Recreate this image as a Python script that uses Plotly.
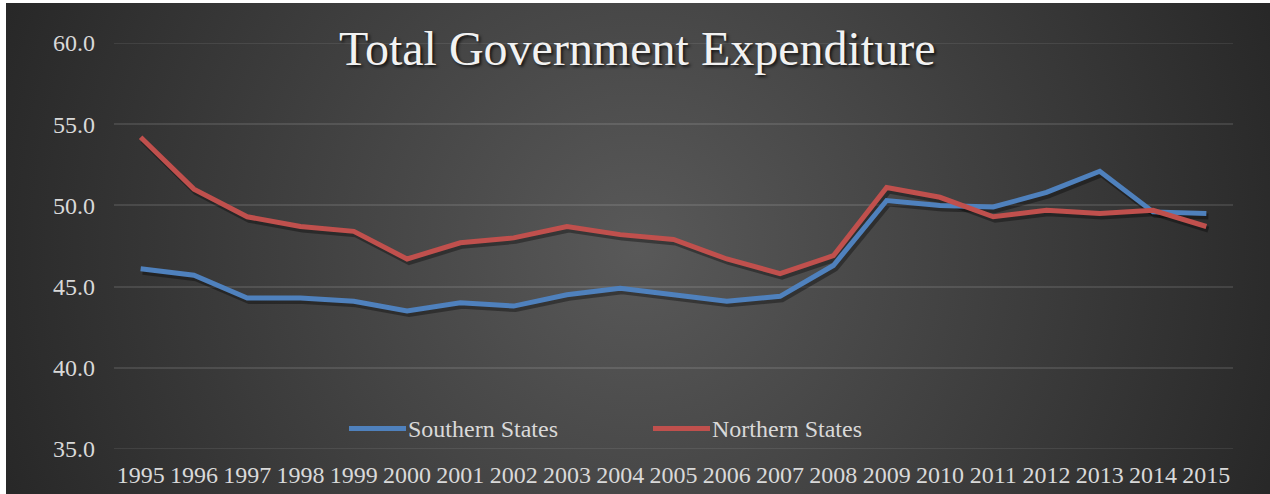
import base64
import plotly.graph_objects as go

# Series data
years = [str(y) for y in range(1995, 2016)]
southern = [46.1, 45.7, 44.3, 44.3, 44.1, 43.5, 44.0, 43.8, 44.5, 44.9, 44.5,
            44.1, 44.4, 46.3, 50.3, 50.0, 49.9, 50.8, 52.1, 49.6, 49.5]
northern = [54.2, 51.0, 49.3, 48.7, 48.4, 46.7, 47.7, 48.0, 48.7, 48.2, 47.9,
            46.7, 45.8, 46.9, 51.1, 50.5, 49.3, 49.7, 49.5, 49.7, 48.7]
y_ticks = [35, 40, 45, 50, 55, 60]

BLUE = "#4F81BD"
RED = "#C0504D"
TEXT = "#d9d9d9"
GRID = "rgba(255,255,255,0.11)"
FONT = "Liberation Serif, Times New Roman, serif"

W, H = 1270, 494
L, R, T, B = 114, 37, 43, 45
PW, PH = W - L - R, H - T - B

# Radial-gradient chart background as an inline SVG image
svg = (
    '<svg xmlns="http://www.w3.org/2000/svg" width="1264" height="491" '
    'viewBox="0 0 1264 491" preserveAspectRatio="none">'
    '<defs><radialGradient id="g" gradientUnits="userSpaceOnUse" '
    'cx="632" cy="245" r="700">'
    '<stop offset="0" stop-color="#595959"/>'
    '<stop offset="1" stop-color="#262626"/>'
    '</radialGradient></defs>'
    '<rect width="1264" height="491" fill="url(#g)"/></svg>'
)
bg_src = "data:image/svg+xml;base64," + base64.b64encode(svg.encode()).decode()

y_lo, y_hi = y_ticks[0], y_ticks[-1]

# Shadow offset in axis units (a couple of pixels right and down)
dx = 2.0 / (PW / len(years))
dy = 3.0 / (PH / (y_hi - y_lo))

fig = go.Figure()

# Drop shadows on the base axes (shifted ranges)
for vals in (southern, northern):
    fig.add_trace(go.Scatter(
        x=years, y=vals, mode="lines", xaxis="x", yaxis="y",
        line=dict(color="rgba(0,0,0,0.35)", width=6),
        hoverinfo="skip", showlegend=False,
    ))

# Main series on the overlaying axes
fig.add_trace(go.Scatter(
    x=years, y=southern, mode="lines", name="Southern States",
    xaxis="x2", yaxis="y2", line=dict(color=BLUE, width=5),
    showlegend=False,
))
fig.add_trace(go.Scatter(
    x=years, y=northern, mode="lines", name="Northern States",
    xaxis="x2", yaxis="y2", line=dict(color=RED, width=5),
    showlegend=False,
))

def px_x(p):
    return (p - L) / PW

def px_y(p):
    return (H - B - p) / PH

LEG_Y = 428.5
shapes = [
    # gridlines at both ends of the value range
    dict(type="line", xref="paper", yref="y2", x0=0, x1=1, y0=y_lo, y1=y_lo,
         line=dict(color=GRID, width=1.5), layer="below"),
    dict(type="line", xref="paper", yref="y2", x0=0, x1=1, y0=y_hi, y1=y_hi,
         line=dict(color=GRID, width=1.5), layer="below"),
    # legend keys
    dict(type="line", xref="paper", yref="paper",
         x0=px_x(349), x1=px_x(406), y0=px_y(LEG_Y), y1=px_y(LEG_Y),
         line=dict(color=BLUE, width=5)),
    dict(type="line", xref="paper", yref="paper",
         x0=px_x(653), x1=px_x(710), y0=px_y(LEG_Y), y1=px_y(LEG_Y),
         line=dict(color=RED, width=5)),
]

annotations = [
    dict(text="Total Government Expenditure", xref="paper", yref="paper",
         x=px_x(637), y=px_y(48), xanchor="center", yanchor="middle",
         showarrow=False,
         font=dict(family=FONT, size=48, color="#f2f2f2",
                   shadow="2px 2px 3px rgba(0,0,0,0.7)")),
    dict(text="Southern States", xref="paper", yref="paper",
         x=px_x(406), y=px_y(LEG_Y), xanchor="left", yanchor="middle",
         showarrow=False, font=dict(family=FONT, size=24, color=TEXT)),
    dict(text="Northern States", xref="paper", yref="paper",
         x=px_x(710), y=px_y(LEG_Y), xanchor="left", yanchor="middle",
         showarrow=False, font=dict(family=FONT, size=24, color=TEXT)),
]

fig.update_layout(
    width=W, height=H,
    margin=dict(l=L, r=R, t=T, b=B, pad=0),
    paper_bgcolor="white",
    plot_bgcolor="rgba(0,0,0,0)",
    showlegend=False,
    images=[dict(source=bg_src, xref="paper", yref="paper",
                 x=px_x(6), y=px_y(3), sizex=1264 / PW, sizey=491 / PH,
                 xanchor="left", yanchor="top", sizing="stretch",
                 layer="below")],
    xaxis=dict(type="category", categoryorder="array", categoryarray=years,
               range=[-0.5 - dx, len(years) - 0.5 - dx], visible=False,
               automargin=False),
    yaxis=dict(range=[y_lo + dy, y_hi + dy], visible=False, automargin=False),
    xaxis2=dict(type="category", categoryorder="array", categoryarray=years,
                overlaying="x", range=[-0.5, len(years) - 0.5],
                showgrid=False, zeroline=False, showline=False, ticks="",
                ticklabelstandoff=9, automargin=False,
                tickfont=dict(family=FONT, size=24, color=TEXT)),
    yaxis2=dict(overlaying="y", range=[y_lo, y_hi],
                tickvals=y_ticks, tickformat=".1f",
                showgrid=True, gridcolor=GRID,
                gridwidth=1.5, zeroline=False, showline=False, ticks="",
                ticklabelstandoff=18, automargin=False,
                tickfont=dict(family=FONT, size=24, color=TEXT)),
    shapes=shapes,
    annotations=annotations,
)

fig.write_html("out.html")
